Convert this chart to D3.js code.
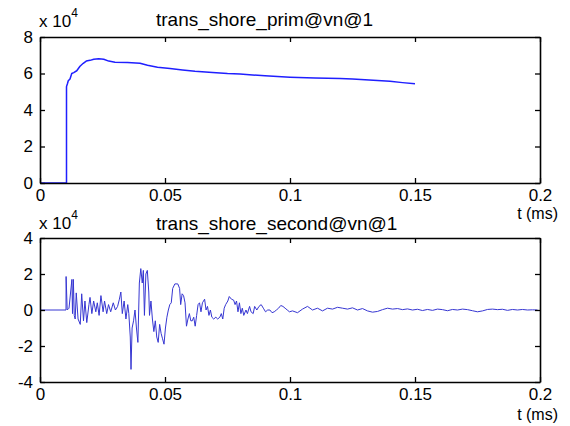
<!DOCTYPE html>
<html>
<head>
<meta charset="utf-8">
<script src="https://cdn.jsdelivr.net/npm/d3@7"></script>
<style>
  html, body { margin: 0; padding: 0; background: #fff; }
  svg { display: block; }
  text { font-family: "Liberation Sans", Arial, Helvetica, sans-serif; fill: #000; }
</style>
</head>
<body>
<svg id="chart" width="570" height="426"></svg>
<script>
// ---------- data (values in units of 10^4) ----------
const xTicks = [0, 0.05, 0.1, 0.15, 0.2];
const yTicksPrim = [0, 2, 4, 6, 8];
const yTicksSecond = [-4, -2, 0, 2, 4];
const titlePrim = "trans_shore_prim@vn@1";
const titleSecond = "trans_shore_second@vn@1";
const xLabel = "t (ms)";

const tPrim = [0, 0.0106, 0.0106, 0.0110, 0.0113, 0.0120, 0.0127, 0.0135, 0.0147, 0.0160, 0.0173, 0.0185,
  0.0200, 0.0215, 0.0235, 0.0255, 0.0275, 0.0300, 0.0350, 0.0400, 0.0430, 0.0470, 0.0520, 0.0570, 0.0620,
  0.0690, 0.0750, 0.0800, 0.0850, 0.0900, 0.1000, 0.1100, 0.1200, 0.1250, 0.1300, 0.1350, 0.1400, 0.1450, 0.1500];
const vPrim = [0, 0, 5.28, 5.45, 5.6, 5.7, 6.0, 6.05, 6.15, 6.4, 6.56, 6.68,
  6.72, 6.78, 6.81, 6.78, 6.68, 6.62, 6.6, 6.56, 6.45, 6.34, 6.27, 6.19, 6.12,
  6.06, 6.0, 5.97, 5.92, 5.87, 5.8, 5.75, 5.72, 5.7, 5.66, 5.62, 5.57, 5.5, 5.44];

const tSecond = [0, 0.01040, 0.01044, 0.01088, 0.0116, 0.01276, 0.01300, 0.01334, 0.01370, 0.01407, 0.0145, 0.01523,
  0.0161, 0.01668, 0.0174, 0.01798, 0.01871, 0.01958, 0.02001, 0.02074, 0.02146, 0.02233, 0.02292, 0.02364,
  0.02437, 0.02524, 0.02582, 0.02669, 0.02741, 0.02828, 0.0293, 0.03017, 0.03104, 0.03176, 0.03234, 0.03292,
  0.03365, 0.03437, 0.0351, 0.03553, 0.03611, 0.0364, 0.03684, 0.03742, 0.038, 0.03858, 0.03916, 0.03974,
  0.04032, 0.0409, 0.04134, 0.04177, 0.04235, 0.04293, 0.04351, 0.0438, 0.04438, 0.04496, 0.04554, 0.04612,
  0.0467, 0.04728, 0.04786, 0.04844, 0.04902, 0.0496, 0.05018, 0.05076, 0.05134, 0.05192, 0.0525, 0.05308,
  0.05395, 0.05511, 0.05584, 0.05627, 0.05685, 0.05743, 0.05801, 0.05859, 0.05917, 0.05975, 0.06033, 0.06091,
  0.06149, 0.06207, 0.06265, 0.06323, 0.06381, 0.06439, 0.06497, 0.06584, 0.06642, 0.067, 0.06758, 0.06816,
  0.06874, 0.06947, 0.07034, 0.07107, 0.07194, 0.07252, 0.0731, 0.07368, 0.07426, 0.07513, 0.07571, 0.07658,
  0.07745, 0.07803, 0.07861, 0.07919, 0.07977, 0.08035, 0.08093, 0.08151, 0.08238, 0.08296, 0.08383, 0.08441,
  0.08528, 0.08586, 0.08673, 0.0876, 0.08847, 0.08934, 0.09021, 0.09108, 0.09195, 0.09282, 0.09369, 0.09456,
  0.09543, 0.0963, 0.09717, 0.09804, 0.09891, 0.09978,
  0.101, 0.103, 0.105, 0.107, 0.109, 0.111, 0.113, 0.115, 0.117, 0.119, 0.121, 0.123, 0.125, 0.127, 0.129,
  0.131, 0.133, 0.135, 0.137, 0.139, 0.141, 0.143, 0.145, 0.147, 0.149, 0.151, 0.153, 0.155, 0.157, 0.159,
  0.161, 0.163, 0.165, 0.167, 0.169, 0.171, 0.173, 0.175, 0.177, 0.179, 0.181, 0.183, 0.185, 0.187, 0.189,
  0.191, 0.193, 0.195, 0.197, 0.199];
const vSecond = [0, 0, 1.86, 0, 0.1, 1.7, -0.2, 1.7, -0.3, -0.5, 0.95, -0.5,
  -0.8, 0.9, -0.6, 0.5, -0.7, 0.3, 0.7, -0.2, 0.5, -0.1, 0.4, -0.3,
  0.8, -0.1, 0.5, -0.2, 0.3, -0.1, 0.4, 0.0, 0.2, 0.6, 1.0, -0.2,
  0.5, -0.5, 0.3, -0.2, -1.5, -3.3, -1.0, -0.6, 0.0, -1.0, -1.8, 1.5,
  2.3, 1.5, 2.2, -0.3, 2.0, 2.2, 1.0, -0.3, 0.5, -0.5, -1.2, -0.6,
  -1.5, -1.8, -0.8, -1.3, -1.6, -1.9, -1.0, -0.4, 0.0, 0.3, 0.4, 1.2,
  1.45, 1.45, 1.2, 0.3, 0.9, 0.8, 0.4, -0.9, -0.5, -0.2, -0.6, -0.6,
  -0.4, -0.9, -0.3, 0.3, 0.4, -0.1, 0.4, 0.6, 0.0, 0.2, -0.3, 0.0,
  -0.4, -0.5, -0.4, -0.5, -0.4, -0.2, -0.5, 0.1, 0.3, 0.5, 0.75, 0.6,
  0.55, 0.3, 0.5, -0.1, 0.4, -0.2, 0.1, -0.3, 0.0, -0.2, 0.2, -0.1,
  -0.2, 0.2, 0.0, 0.2, 0.3, 0.1, -0.1, 0.0, 0.0, -0.15, -0.1, 0.0,
  0.1, 0.25, 0.2, 0.1, 0.0, -0.1,
  -0.05, -0.15, 0.05, 0.2, 0.0, 0.1, -0.05, 0.1, 0.05, 0.15, 0.1, 0.05, 0.12, 0.0, 0.08,
  -0.05, -0.12, -0.08, 0.02, 0.1, 0.05, 0.08, 0.02, 0.06, 0.0, 0.04, -0.03, 0.03, -0.02, 0.05,
  0.02, -0.04, 0.03, 0.0, 0.05, 0.02, -0.04, -0.1, -0.05, 0.03, 0.05, 0.02, 0.04, -0.02, 0.03,
  0.0, 0.03, 0.0, 0.01, 0.0];

// ---------- drawing ----------
const svg = d3.select("#chart");
const x = d3.scaleLinear().domain([0, 0.2]).range([40, 540]);
const yPrim = d3.scaleLinear().domain([0, 8]).range([183, 37]);
const ySecond = d3.scaleLinear().domain([-4, 4]).range([382, 238]);

function panel(yScale, yTicks, ts, vs, color, width, title, titleY, expY, labelY) {
  const g = svg.append("g");
  const [y0, y1] = yScale.range();
  const fmt = d => String(d);

  // data line
  const line = d3.line().x((d, i) => x(ts[i])).y(d => yScale(d));
  g.append("path").datum(vs)
    .attr("fill", "none").attr("stroke", color).attr("stroke-width", width)
    .attr("stroke-linejoin", "round").attr("d", line);

  const fs = "17px";
  const bottom = g.append("g").attr("transform", `translate(0,${y0})`)
    .call(d3.axisBottom(x).tickValues(xTicks).tickFormat(fmt).tickSize(-5).tickSizeOuter(0).tickPadding(6));
  const top = g.append("g").attr("transform", `translate(0,${y1})`)
    .call(d3.axisTop(x).tickValues(xTicks).tickFormat("").tickSize(-5).tickSizeOuter(0));
  const left = g.append("g").attr("transform", `translate(${x.range()[0]},0)`)
    .call(d3.axisLeft(yScale).tickValues(yTicks).tickFormat(fmt).tickSize(-5).tickSizeOuter(0).tickPadding(7));
  const right = g.append("g").attr("transform", `translate(${x.range()[1]},0)`)
    .call(d3.axisRight(yScale).tickValues(yTicks).tickFormat("").tickSize(-5).tickSizeOuter(0));
  [bottom, top, left, right].forEach(a => {
    a.selectAll("path.domain").attr("stroke", "#000").attr("stroke-width", 1.6);
    a.selectAll(".tick line").attr("stroke", "#000").attr("stroke-width", 1.3);
    a.selectAll(".tick text").attr("font-size", fs).attr("fill", "#000")
      .attr("font-family", '"Liberation Sans", Arial, sans-serif');
  });

  // title
  g.append("text").attr("x", 156).attr("y", titleY).attr("font-size", "19px").text(title);
  // exponent
  const e = g.append("text").attr("x", 39).attr("y", expY).attr("font-size", "17px");
  e.append("tspan").text("x 10");
  e.append("tspan").attr("dy", -10).attr("font-size", "12px").text("4");
  // x label
  g.append("text").attr("x", 558).attr("y", labelY).attr("text-anchor", "end")
    .attr("font-size", "16px").text(xLabel);
}

panel(yPrim, yTicksPrim, tPrim, vPrim, "#1f1fff", 1.5, titlePrim, 26, 27, 219);
panel(ySecond, yTicksSecond, tSecond, vSecond, "#3636d2", 1.0, titleSecond, 230, 229, 420);
</script>
</body>
</html>
